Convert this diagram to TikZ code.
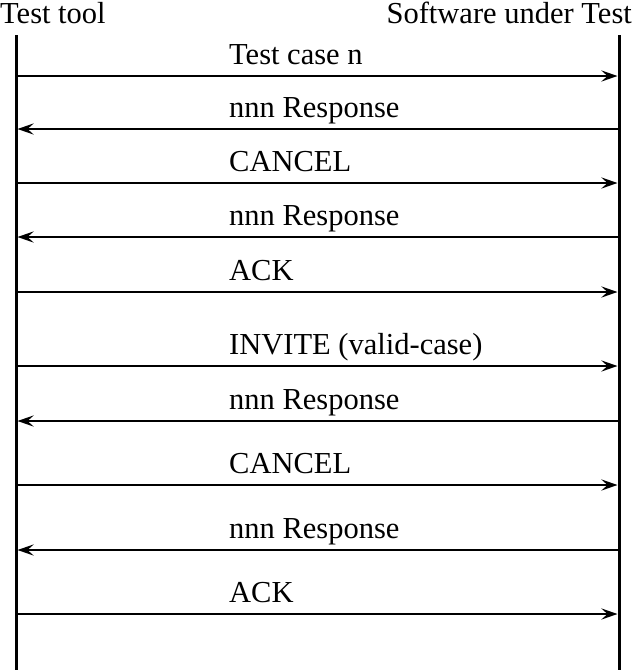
\documentclass[tikz,border=0pt]{standalone}
\usepackage{fontspec}
\setmainfont{Liberation Serif}
\usetikzlibrary{arrows.meta}
\begin{document}
\begin{tikzpicture}[x=1pt,y=-1pt,
  lifeline/.style={line width=3pt},
  msg/.style={line width=2.9pt,-{Stealth[length=16pt,width=11pt,inset=6pt]},shorten >=1.5pt},
  reply/.style={line width=2.6pt,-{Stealth[length=16pt,width=11pt,inset=6pt]},shorten >=1.5pt},
  label/.style={anchor=base west,inner sep=0pt,font=\fontsize{30.5}{36}\selectfont},
  head/.style={inner sep=0pt,font=\fontsize{30.5}{36}\selectfont}]
\useasboundingbox (0,0) rectangle (632,670);

% participants
\node[head,anchor=base west] (tool) at (0,23) {Test tool};
\node[head,anchor=base east] (sut) at (632,23) {Software under Test};

% lifelines
\coordinate (Ltop) at (16,35);
\coordinate (Lbot) at (16,670);
\coordinate (Rtop) at (619,35);
\coordinate (Rbot) at (619,670);
\draw[lifeline] (Ltop) -- (Lbot);
\draw[lifeline] (Rtop) -- (Rbot);

% messages: y position / direction / text
\foreach \i/\y/\dir/\txt in {
  1/76/r/{Test case n},
  2/129/l/{nnn Response},
  3/183/r/{CANCEL},
  4/237/l/{nnn Response},
  5/292/r/{ACK},
  6/366/r/{INVITE (valid-case)},
  7/421/l/{nnn Response},
  8/485/r/{CANCEL},
  9/550/l/{nnn Response},
  10/614/r/{ACK}} {
  \coordinate (a\i) at (16,\y);
  \coordinate (b\i) at (619,\y);
  \node[label] (t\i) at (229,\y-12) {\txt};
  \if r\dir
    \draw[msg] (a\i) -- (b\i);
  \else
    \draw[reply] (b\i) -- (a\i);
  \fi
}
\end{tikzpicture}
\end{document}
